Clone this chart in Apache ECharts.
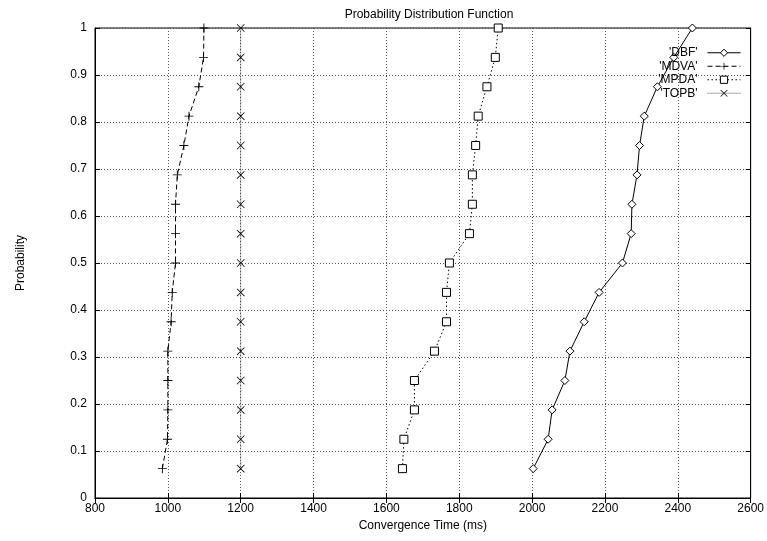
<!DOCTYPE html>
<html>
<head>
<meta charset="utf-8">
<script src="https://cdn.jsdelivr.net/npm/echarts@6/dist/echarts.min.js"></script>
<style>
html,body{margin:0;padding:0;background:#fff;}
#chart{width:767px;height:541px;}
</style>
</head>
<body>
<div id="chart"></div>
<script>
// Probabilities (k/16)
var probs = [0.0625,0.125,0.1875,0.25,0.3125,0.375,0.4375,0.5,0.5625,0.625,0.6875,0.75,0.8125,0.875,0.9375,1.0];
// Convergence times (ms)
var dbf  = [2003,2044,2055,2090,2104,2143,2184,2248,2272,2274,2288,2295,2308,2344,2389,2440];
var mdva = [985,999,1000,1000,1000,1009,1012,1021,1021,1021,1026,1044,1058,1085,1098,1099];
var mpda = [1644,1648,1677,1677,1732,1765,1765,1773,1828,1836,1836,1845,1852,1876,1899,1907];
var topb = [1200,1200,1200,1200,1200,1200,1200,1200,1200,1200,1200,1200,1200,1200,1200,1200];
var seriesNames = ["'DBF'","'MDVA'","'MPDA'","'TOPB'"];
var xMin = 800, xMax = 2600, xStep = 200;
var yMin = 0, yMax = 1, yStep = 0.1;

function pairs(xs){ return xs.map(function(x,i){ return [x, probs[i]]; }); }

var FONT = 'Liberation Sans, Arial, Helvetica, sans-serif';
var plusPath = 'path://M0,4.5H10V5.5H0Z M4.5,0H5.5V10H4.5Z';
var crossPath = 'path://M0,0.7L0.7,0L5,4.3L9.3,0L10,0.7L5.7,5L10,9.3L9.3,10L5,5.7L0.7,10L0,9.3L4.3,5Z';

var chart = echarts.init(document.getElementById('chart'), null, {renderer:'canvas'});
var gridLine = {show:true, lineStyle:{color:'#555', type:[1,2], width:1}};
var option = {
  backgroundColor:'#fff',
  animation:false,
  title:{text:'Probability Distribution Function', left:424, textAlign:'center', top:4,
    textStyle:{fontFamily:FONT, fontSize:12, fontWeight:'normal', color:'#000'}},
  grid:{left:95, right:14, top:28, bottom:43, show:true, borderColor:'#000', borderWidth:1, backgroundColor:'transparent'},
  legend:{
    orient:'vertical', right:21, top:41, align:'right', itemGap:0, itemWidth:33, itemHeight:9,
    data:seriesNames,
    lineStyle:{width:1},
    itemStyle:{borderWidth:1},
    textStyle:{fontFamily:FONT, fontSize:12, color:'#000', width:60, align:'right', lineHeight:13.5, padding:[0,5,0,0]}
  },
  xAxis:[{
    type:'value', min:xMin, max:xMax, interval:xStep,
    name:'Convergence Time (ms)', nameLocation:'middle', nameGap:20,
    nameTextStyle:{fontFamily:FONT, fontSize:12, color:'#000'},
    axisLine:{show:true, lineStyle:{color:'#000', width:1}},
    axisTick:{show:true, inside:true, length:5, lineStyle:{color:'#000'}},
    axisLabel:{fontFamily:FONT, fontSize:12, color:'#000', margin:5,
      formatter:function(v){ return String(v); }},
    splitLine:gridLine
  },{
    type:'value', min:xMin, max:xMax, interval:xStep, position:'top',
    axisLine:{show:true, lineStyle:{color:'#000'}},
    axisTick:{show:true, inside:true, length:5, lineStyle:{color:'#000'}},
    axisLabel:{show:false}, splitLine:{show:false}
  }],
  yAxis:[{
    type:'value', min:yMin, max:yMax, interval:yStep,
    name:'Probability', nameLocation:'middle', nameGap:68, nameRotate:90,
    nameTextStyle:{fontFamily:FONT, fontSize:12, color:'#000'},
    axisLine:{show:true, lineStyle:{color:'#000'}},
    axisTick:{show:true, inside:true, length:5, lineStyle:{color:'#000'}},
    axisLabel:{fontFamily:FONT, fontSize:12, color:'#000', margin:8,
      formatter:function(v){ return String(parseFloat(v.toFixed(1))); }},
    splitLine:gridLine
  },{
    type:'value', min:yMin, max:yMax, interval:yStep, position:'right',
    axisLine:{show:true, lineStyle:{color:'#000'}},
    axisTick:{show:true, inside:true, length:5, lineStyle:{color:'#000'}},
    axisLabel:{show:false}, splitLine:{show:false}
  }],
  series:[
    {name:seriesNames[0], type:'line', data:pairs(dbf), symbol:'diamond', symbolSize:[8,8], showAllSymbol:true,
      lineStyle:{color:'#000', width:1, type:'solid'},
      itemStyle:{color:'#fff', borderColor:'#000', borderWidth:1}},
    {name:seriesNames[1], type:'line', data:pairs(mdva), symbol:plusPath, symbolSize:9, showAllSymbol:true,
      lineStyle:{color:'#000', width:1, type:[5,3]},
      itemStyle:{color:'#000', borderWidth:0}},
    {name:seriesNames[2], type:'line', data:pairs(mpda), symbol:'rect', symbolSize:8, showAllSymbol:true,
      lineStyle:{color:'#000', width:1, type:[1.5,2.5]},
      itemStyle:{color:'#fff', borderColor:'#000', borderWidth:1}},
    {name:seriesNames[3], type:'line', data:pairs(topb), symbol:crossPath, symbolSize:8, showAllSymbol:true,
      lineStyle:{color:'#555', width:1, type:[1,1]},
      itemStyle:{color:'#000', borderWidth:0}}
  ]
};
chart.setOption(option);
</script>
</body>
</html>
